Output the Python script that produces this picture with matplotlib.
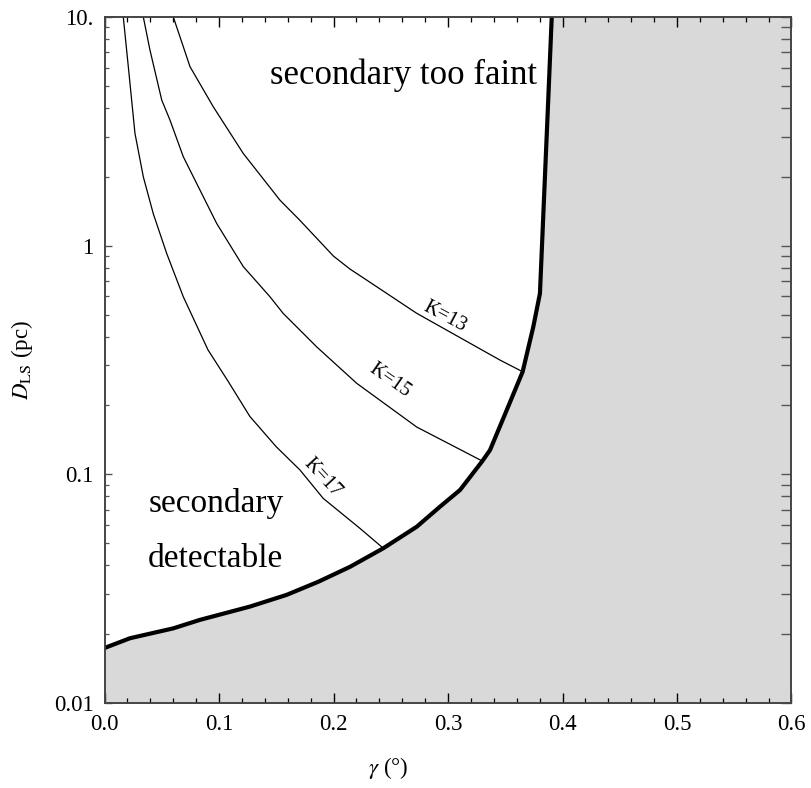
import matplotlib
matplotlib.use("Agg")
import matplotlib.pyplot as plt
from matplotlib.ticker import FixedLocator, LogLocator, NullFormatter, MultipleLocator

plt.rcParams['font.family'] = ['Liberation Serif', 'DejaVu Serif']
plt.rcParams['mathtext.fontset'] = 'stix'

# boundary (thick) curve
gamma_boundary = [0.0, 0.0223, 0.060, 0.0834, 0.127, 0.159, 0.1867, 0.2144, 0.2435,
                  0.2727, 0.293, 0.3105, 0.330, 0.3367, 0.3513, 0.3652, 0.3745, 0.3803,
                  0.3875, 0.3906]
D_boundary = [0.0174, 0.0192, 0.0212, 0.0231, 0.0264, 0.0297, 0.0339, 0.0394, 0.0475,
              0.059, 0.0722, 0.0854, 0.1143, 0.1277, 0.191, 0.281, 0.442, 0.618,
              4.3, 10.0]

# magnitude contours
g17 = [0.0164, 0.0208, 0.0266, 0.0339, 0.0426, 0.0543, 0.0688, 0.0904, 0.108, 0.127,
       0.150, 0.1707, 0.191, 0.223, 0.2435]
D17 = [10, 6.06, 3.10, 2.0, 1.38, 0.925, 0.598, 0.35, 0.255, 0.179, 0.132, 0.1045,
       0.0785, 0.0581, 0.0475]
g15 = [0.0339, 0.0397, 0.05, 0.0572, 0.0688, 0.0834, 0.098, 0.1212, 0.1445, 0.156,
       0.1853, 0.2203, 0.2727, 0.330]
D15 = [10, 7.17, 4.33, 3.54, 2.45, 1.75, 1.25, 0.81, 0.598, 0.506, 0.361, 0.250,
       0.161, 0.1143]
g13 = [0.0601, 0.0747, 0.095, 0.1212, 0.1533, 0.1707, 0.20, 0.2144, 0.229, 0.2727,
       0.3454, 0.3652]
D13 = [10, 6.06, 4.05, 2.53, 1.58, 1.29, 0.90, 0.79, 0.707, 0.506, 0.316, 0.281]

contour_labels = ["K=13", "K=15", "K=17"]
label_pos = [(0.2974, 0.488, -28), (0.2493, 0.256, -35), (0.19, 0.097, -47)]

x_ticks = [0.0, 0.1, 0.2, 0.3, 0.4, 0.5, 0.6]
x_ticklabels = ["0.0", "0.1", "0.2", "0.3", "0.4", "0.5", "0.6"]
y_ticks = [0.01, 0.1, 1, 10]
y_ticklabels = ["0.01", "0.1", "1", "10."]

xmin, xmax = 0.0, 0.6
ymin, ymax = 0.01, 10.0

fig = plt.figure(figsize=(8.11, 7.88), dpi=100)
ax = fig.add_axes([104.5 / 811, 1 - 703 / 788, 687 / 811, 686 / 788])
ax.set_yscale('log')
ax.set_xlim(xmin, xmax)
ax.set_ylim(ymin, ymax)

# shaded region
fx = [xmin] + gamma_boundary + [xmax, xmax]
fy = [ymin] + D_boundary + [ymax, ymin]
ax.fill(fx, fy, color='#d9d9d9', lw=0, zorder=1)

ax.plot(gamma_boundary, D_boundary, color='black', lw=3.0, zorder=4,
        solid_joinstyle='round', solid_capstyle='butt')
for g, d in [(g13, D13), (g15, D15), (g17, D17)]:
    ax.plot(g, d, color='black', lw=0.9, zorder=3)

for lab, (x, y, r) in zip(contour_labels, label_pos):
    ax.text(x, y, lab, fontsize=14.5, rotation=r, ha='center', va='center',
            rotation_mode='anchor', zorder=5)

ax.text(0.2616, 5.09, "secondary too faint", fontsize=25, ha='center', va='baseline')
ax.text(0.0974, 0.0684, "secondary", fontsize=24, ha='center', va='baseline')
ax.text(0.0965, 0.0393, "detectable", fontsize=24, ha='center', va='baseline')

ax.set_xticks(x_ticks)
ax.set_xticklabels(x_ticklabels)
ax.xaxis.set_minor_locator(MultipleLocator(0.02))
ax.yaxis.set_major_locator(FixedLocator(y_ticks))
ax.set_yticklabels(y_ticklabels)
ax.yaxis.set_minor_locator(LogLocator(base=10, subs=range(2, 10)))
ax.yaxis.set_minor_formatter(NullFormatter())

ax.tick_params(axis='x', which='major', direction='in', length=7, width=1.0,
               top=True, labelsize=16.5, pad=8, color='black')
ax.tick_params(axis='x', which='minor', direction='in', length=3.8, width=0.9,
               top=True, color='black')
ax.tick_params(axis='y', which='major', direction='in', length=5, width=1.0,
               right=False, labelsize=16.5, pad=8, color='#555555')
ax.tick_params(axis='y', which='minor', direction='in', length=2.6, width=0.9,
               right=False, color='#555555')

ax2 = ax.twinx()
ax2.set_yscale('log')
ax2.set_ylim(ymin, ymax)
ax2.yaxis.set_major_locator(FixedLocator(y_ticks))
ax2.yaxis.set_minor_locator(LogLocator(base=10, subs=range(2, 10)))
ax2.yaxis.set_major_formatter(NullFormatter())
ax2.yaxis.set_minor_formatter(NullFormatter())
ax2.tick_params(axis='y', which='both', direction='in', length=7.5, width=1.0,
                color='#555555')

for a in (ax, ax2):
    for s in a.spines.values():
        s.set_color('#444444')
        s.set_linewidth(1.2)

ax.set_xlabel(r'$\gamma$ (°)', fontsize=16.5, va='center')
ax.xaxis.set_label_coords((388 - 104.5) / 687, -0.0948)
ax.set_ylabel(r'$D_{\mathrm{LS}}$ (pc)', fontsize=16.5, va='center')
ax.yaxis.set_label_coords(-0.120, 0.5)

fig.savefig('out.png', dpi=100)
